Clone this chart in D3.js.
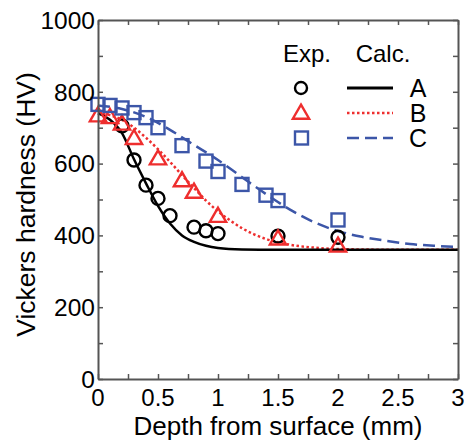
<!DOCTYPE html>
<html>
<head>
<meta charset="utf-8">
<script src="https://cdn.jsdelivr.net/npm/d3@7"></script>
<style>
  body { margin: 0; background: #fff; }
  text { font-family: "Liberation Sans", Arial, sans-serif; fill: #000; }
</style>
</head>
<body>
<div id="chart"></div>
<script>
// experimental points (depth in mm, hardness in HV)
const depthA = [0.2, 0.3, 0.4, 0.5, 0.6, 0.8, 0.9, 1.0, 1.5, 2.0];
const hvA = [705, 610, 540, 503, 455, 423, 413, 405, 398, 395];
const depthB = [0, 0.1, 0.2, 0.3, 0.5, 0.7, 0.8, 1.0, 1.5, 2.0];
const hvB = [735, 730, 712, 672, 615, 554, 522, 455, 392, 372];
const depthC = [0, 0.1, 0.2, 0.3, 0.4, 0.5, 0.7, 0.9, 1.0, 1.2, 1.4, 1.5, 2.0];
const hvC = [765, 762, 755, 742, 728, 700, 650, 607, 578, 542, 512, 497, 443];

// calculated curves
const calcDepthA = [0, 0.1, 0.2, 0.3, 0.4, 0.5, 0.6, 0.7, 0.8, 0.9, 1.0, 1.2, 1.5, 2.0, 3.0];
const calcHvA = [740, 722, 685, 612, 545, 482, 433, 400, 382, 371, 365, 361, 360, 360, 360];
const calcDepthB = [0, 0.1, 0.2, 0.3, 0.4, 0.5, 0.6, 0.7, 0.8, 0.9, 1.0, 1.1, 1.2, 1.3, 1.4, 1.6, 1.8, 2.0, 2.5, 3.0];
const calcHvB = [740, 735, 722, 700, 672, 640, 605, 568, 532, 497, 467, 442, 420, 403, 390, 374, 366, 362, 360, 360];
const calcDepthC = [0, 0.2, 0.4, 0.6, 0.8, 1.0, 1.2, 1.4, 1.6, 1.8, 2.0, 2.2, 2.4, 2.6, 2.8, 3.0];
const calcHvC = [762, 752, 730, 694, 652, 610, 562, 515, 472, 437, 412, 396, 385, 376, 371, 368];

const seriesNames = ["A", "B", "C"];
const xTicks = [0, 0.5, 1, 1.5, 2, 2.5, 3];
const yTicks = [0, 200, 400, 600, 800, 1000];

const width = 464, height = 441;
const margin = { top: 20, right: 6, bottom: 62, left: 98 };

const x = d3.scaleLinear().domain([0, 3]).range([margin.left, width - margin.right]);
const y = d3.scaleLinear().domain([0, 1000]).range([height - margin.bottom, margin.top]);

const red = "#ee2e2e", blue = "#3c56a8", axisGray = "#555";

const svg = d3.select("#chart").append("svg")
  .attr("width", width)
  .attr("height", height);

const zip = (xs, ys) => xs.map((d, i) => [d, ys[i]]);

// curves
const line = d3.line().x(d => x(d[0])).y(d => y(d[1])).curve(d3.curveMonotoneX);
const curves = [
  { pts: zip(calcDepthC, calcHvC), color: blue, width: 2.5, dash: "12,6" },
  { pts: zip(calcDepthB, calcHvB), color: red, width: 2.5, dash: "2.5,2.5" },
  { pts: zip(calcDepthA, calcHvA), color: "#000", width: 2.5, dash: null }
];
svg.selectAll("path.curve")
  .data(curves)
  .join("path")
  .attr("class", "curve")
  .attr("d", d => line(d.pts))
  .attr("fill", "none")
  .attr("stroke", d => d.color)
  .attr("stroke-width", d => d.width)
  .attr("stroke-dasharray", d => d.dash);

// markers
const tri = d3.symbol().type(d3.symbolTriangle).size(115);
function drawCircles(g, pts) {
  g.selectAll("circle").data(pts).join("circle")
    .attr("cx", d => x(d[0])).attr("cy", d => y(d[1])).attr("r", 6.5)
    .attr("fill", "none").attr("stroke", "#000").attr("stroke-width", 2.4);
}
function drawTriangles(g, pts) {
  g.selectAll("path").data(pts).join("path")
    .attr("d", tri)
    .attr("transform", d => `translate(${x(d[0])},${y(d[1]) + 1.5})`)
    .attr("fill", "none").attr("stroke", red).attr("stroke-width", 2.4);
}
function drawSquares(g, pts) {
  g.selectAll("rect").data(pts).join("rect")
    .attr("x", d => x(d[0]) - 6.5).attr("y", d => y(d[1]) - 6.5)
    .attr("width", 13).attr("height", 13)
    .attr("fill", "none").attr("stroke", blue).attr("stroke-width", 2.4);
}
drawCircles(svg.append("g"), zip(depthA, hvA));
drawTriangles(svg.append("g"), zip(depthB, hvB));
drawSquares(svg.append("g"), zip(depthC, hvC));

// axes: ticks pointing inward on all four sides
const xMinor = d3.range(0, 3.001, 0.25);
const yMinor = d3.range(0, 1001, 100);
const axisStyle = g => {
  g.select(".domain").attr("stroke", axisGray).attr("stroke-width", 2);
  g.selectAll(".tick line").attr("stroke", axisGray).attr("stroke-width", 1.5);
};

svg.append("g")
  .attr("transform", `translate(0,${y(0)})`)
  .call(d3.axisBottom(x).tickValues(xMinor).tickSize(-5).tickSizeOuter(0).tickFormat(""))
  .call(axisStyle);
svg.append("g")
  .attr("transform", `translate(0,${y(1000)})`)
  .call(d3.axisTop(x).tickValues(xMinor).tickSize(-5).tickSizeOuter(0).tickFormat(""))
  .call(axisStyle);
svg.append("g")
  .attr("transform", `translate(${x(0)},0)`)
  .call(d3.axisLeft(y).tickValues(yMinor).tickSize(-5).tickSizeOuter(0).tickFormat(""))
  .call(axisStyle);
svg.append("g")
  .attr("transform", `translate(${x(3)},0)`)
  .call(d3.axisRight(y).tickValues(yMinor).tickSize(-5).tickSizeOuter(0).tickFormat(""))
  .call(axisStyle);

// tick labels
svg.selectAll("text.xtick")
  .data(xTicks)
  .join("text")
  .attr("class", "xtick")
  .attr("x", d => x(d))
  .attr("y", y(0) + 27)
  .attr("text-anchor", "middle")
  .style("font-size", "24px")
  .text(d => d);

svg.selectAll("text.ytick")
  .data(yTicks)
  .join("text")
  .attr("class", "ytick")
  .attr("x", x(0) - 3)
  .attr("y", d => y(d))
  .attr("dy", "0.36em")
  .attr("text-anchor", "end")
  .style("font-size", "24.5px")
  .text(d => d);

// axis titles
svg.append("text")
  .attr("x", (x(0) + x(3)) / 2)
  .attr("y", 435)
  .attr("text-anchor", "middle")
  .style("font-size", "26px")
  .text("Depth from surface (mm)");

svg.append("text")
  .attr("transform", `translate(35,${(y(0) + y(1000)) / 2 + 5}) rotate(-90)`)
  .attr("text-anchor", "middle")
  .style("font-size", "26.5px")
  .text("Vickers hardness (HV)");

// legend
const legend = svg.append("g");
legend.append("text").attr("x", 307).attr("y", 62).attr("text-anchor", "middle")
  .style("font-size", "24px").text("Exp.");
legend.append("text").attr("x", 383).attr("y", 62).attr("text-anchor", "middle")
  .style("font-size", "24px").text("Calc.");

const legendRows = [88, 113, 138];
const legendLines = [curves[2], curves[1], curves[0]];
legend.append("circle").attr("cx", 301).attr("cy", legendRows[0]).attr("r", 6)
  .attr("fill", "none").attr("stroke", "#000").attr("stroke-width", 2.4);
legend.append("path").attr("d", tri)
  .attr("transform", `translate(301,${legendRows[1] + 1})`)
  .attr("fill", "none").attr("stroke", red).attr("stroke-width", 2.4);
legend.append("rect").attr("x", 295).attr("y", legendRows[2] - 6.5)
  .attr("width", 13).attr("height", 13)
  .attr("fill", "none").attr("stroke", blue).attr("stroke-width", 2.4);

legend.selectAll("line.leg")
  .data(legendLines)
  .join("line")
  .attr("class", "leg")
  .attr("x1", 347).attr("x2", 393)
  .attr("y1", (d, i) => legendRows[i]).attr("y2", (d, i) => legendRows[i])
  .attr("stroke", d => d.color)
  .attr("stroke-width", (d, i) => i === 0 ? 3 : 2.5)
  .attr("stroke-dasharray", d => d.dash);

legend.selectAll("text.legname")
  .data(seriesNames)
  .join("text")
  .attr("class", "legname")
  .attr("x", 418)
  .attr("y", (d, i) => legendRows[i])
  .attr("dy", "0.36em")
  .attr("text-anchor", "middle")
  .style("font-size", "25px")
  .text(d => d);
</script>
</body>
</html>
